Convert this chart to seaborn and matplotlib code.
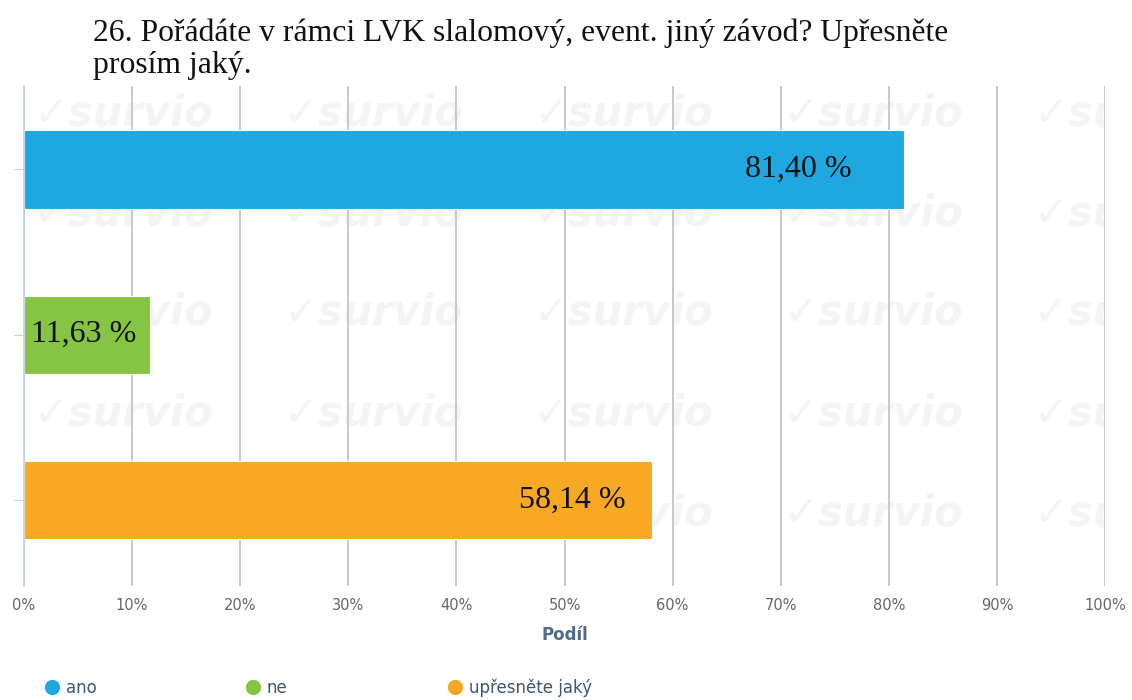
import matplotlib.pyplot as plt
import pandas as pd
import seaborn as sns
from matplotlib.lines import Line2D
from matplotlib.ticker import FuncFormatter

categories = ["ano", "ne", "upřesněte jaký"]
shares = [81.40, 11.63, 58.14]
bar_colors = ["#1fa8df", "#86c443", "#f9a823"]
label_pads = [-38, -9.5, -19.5]
legend_x = [44, 245, 447]

TITLE = "26. Pořádáte v rámci LVK slalomový, event. jiný závod? Upřesněte\nprosím jaký."

df = pd.DataFrame({"kategorie": categories, "podil": shares})

sns.set_theme(style="white")
plt.rcParams["font.family"] = ["DejaVu Sans"]

W, H = 1132, 700
fig = plt.figure(figsize=(W / 100, H / 100), dpi=100)

ax = fig.add_axes([24 / W, 1 - 586 / H, (1105 - 24) / W, (586 - 86) / H])

# faint survio watermark tiles, clipped to the plot area, under grid and bars
for row_y in range(113, 540, 100):
    for col_x in range(34, W, 250):
        ax.text(col_x / W, 1 - row_y / H, "✓survio", transform=fig.transFigure,
                fontsize=30, fontweight="bold", style="italic", color="#f4f4f4",
                va="center", ha="left", zorder=-1, clip_on=True)

sns.barplot(
    data=df, x="podil", y="kategorie", hue="kategorie",
    palette=dict(zip(categories, bar_colors)), orient="h",
    width=0.475, saturation=1, legend=False, ax=ax,
    edgecolor="white", linewidth=0.8, zorder=3,
)

for container, val, pad in zip(ax.containers, shares, label_pads):
    texts = ax.bar_label(
        container, labels=[f"{val:.2f} %".replace(".", ",")], padding=pad,
        label_type="edge", family="Liberation Serif", fontsize=23,
        color="#111111", zorder=5,
    )
    for t in texts:
        t.set_ha("right")

ax.set_xlim(0, 100)
ax.set_ylim(2.52, -0.505)
ax.set_xticks(range(0, 101, 10))
ax.xaxis.set_major_formatter(FuncFormatter(lambda v, _: f"{v:.0f}%"))
ax.tick_params(axis="x", length=0, labelsize=10.5, labelcolor="#666666", pad=9)
ax.tick_params(axis="y", left=True, length=7, width=0.8, color="#c0d0e0", labelleft=False)
ax.grid(axis="x", color="#c8c8c8", linewidth=1.4, zorder=0)
ax.grid(axis="y", visible=False)
for side in ["top", "right", "bottom"]:
    ax.spines[side].set_visible(False)
ax.spines["left"].set_color("#c0d0e0")
ax.spines["left"].set_linewidth(1.2)
ax.spines["left"].set_zorder(4)

ax.set_ylabel("")
ax.set_xlabel("Podíl", fontsize=12, fontweight="bold", color="#4d6b8a", labelpad=9)

fig.text(93 / W, 1 - 19 / H, TITLE, family="Liberation Serif", fontsize=22.8,
         color="#111111", va="top", ha="left", linespacing=1.12)

for cat, col, lx in zip(categories, bar_colors, legend_x):
    handle = Line2D([0], [0], marker="o", linestyle="", markersize=10,
                    markerfacecolor=col, markeredgecolor=col)
    fig.legend([handle], [cat], loc="center left", bbox_to_anchor=(lx / W, 1 - 688 / H),
               frameon=False, fontsize=12, labelcolor="#3e576f", borderaxespad=0,
               borderpad=0, handletextpad=0.3, handlelength=1.0)

fig.savefig("out.png", dpi=100)
